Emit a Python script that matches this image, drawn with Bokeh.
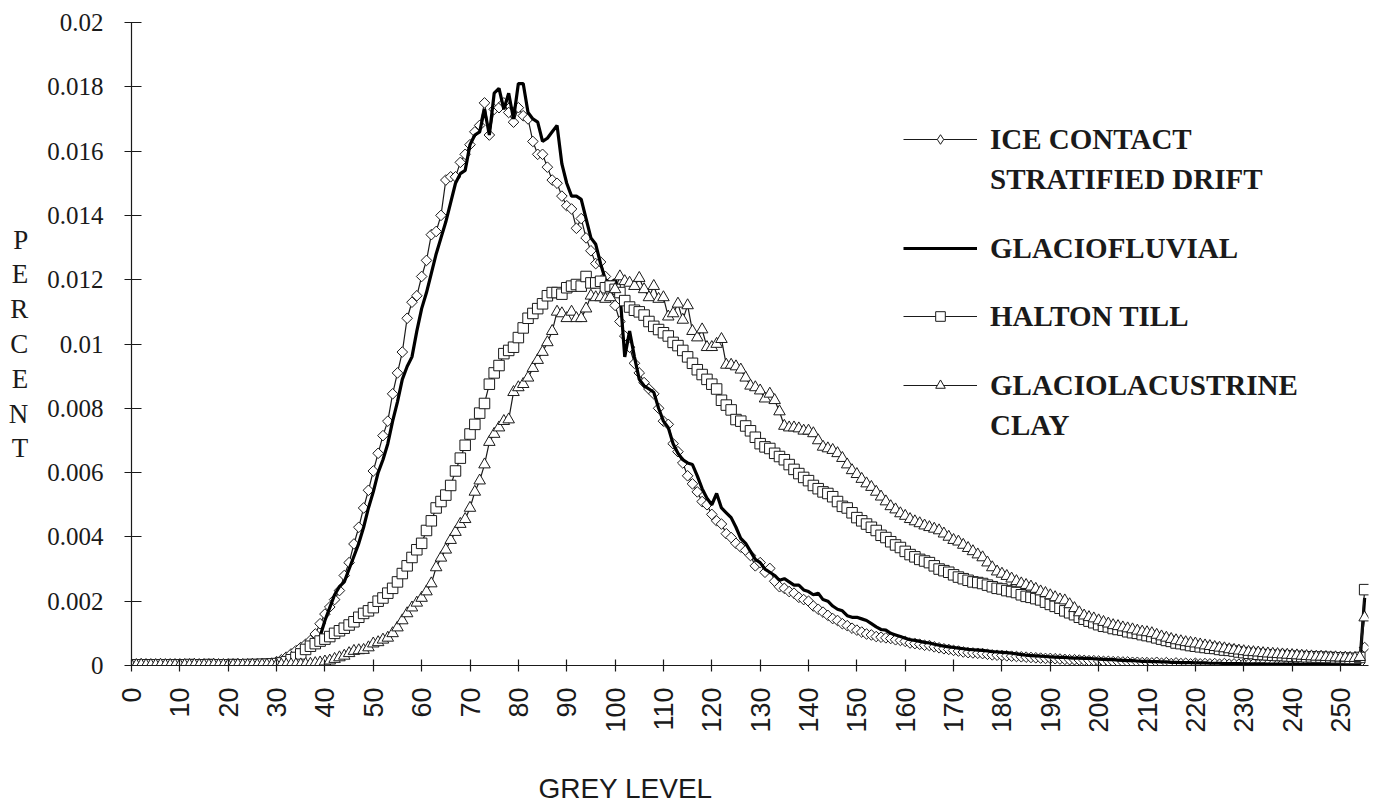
import numpy as np
from bokeh.plotting import figure
from bokeh.models import (Range1d, FixedTicker, CustomJSTickFormatter, Legend,
                          LegendItem)
from bokeh.embed import file_html
from bokeh.resources import INLINE

# ---------------- data (values in thousandths of the plotted "PERCENT") ----------------
GREY_LEVEL = list(range(256))
X_TICKS = [0, 10, 20, 30, 40, 50, 60, 70, 80, 90, 100, 110, 120, 130, 140, 150,
           160, 170, 180, 190, 200, 210, 220, 230, 240, 250]
Y_TICKS = [0, 0.002, 0.004, 0.006, 0.008, 0.01, 0.012, 0.014, 0.016, 0.018, 0.02]
PER_MILLE = 0.001

ICE_CONTACT = [
    0.02, 0.03, 0.02, 0.02, 0.03, 0.02, 0.02, 0.03, 0.02, 0.02,
    0.03, 0.02, 0.02, 0.03, 0.02, 0.03, 0.02, 0.02, 0.03, 0.03,
    0.02, 0.03, 0.03, 0.02, 0.03, 0.04, 0.03, 0.04, 0.05, 0.07,
    0.12, 0.18, 0.26, 0.36, 0.46, 0.56, 0.66, 0.78, 0.98, 1.30,
    1.60, 1.82, 2.05, 2.33, 2.80, 3.20, 3.78, 4.30, 4.90, 5.45,
    6.05, 6.60, 7.15, 7.60, 8.45, 9.10, 9.75, 10.80, 11.30, 11.50,
    12.10, 12.60, 13.40, 13.50, 14.00, 15.10, 15.20, 15.20, 15.65, 15.90,
    16.20, 16.60, 16.80, 17.50, 16.50, 17.30, 17.35, 17.50, 17.20, 16.90,
    17.35, 17.10, 17.00, 16.30, 15.90, 15.90, 15.50, 15.10, 15.00, 14.60,
    14.30, 14.20, 13.60, 13.90, 13.30, 12.90, 12.50, 12.55, 12.10, 11.80,
    11.20, 10.70, 10.25, 9.90, 9.40, 9.10, 8.80, 8.60, 8.45, 8.00,
    7.60, 7.50, 6.90, 6.65, 6.30, 5.90, 5.65, 5.40, 5.10, 5.00,
    4.70, 4.50, 4.40, 4.10, 3.98, 3.80, 3.68, 3.58, 3.42, 3.10,
    3.20, 2.90, 3.02, 2.62, 2.45, 2.40, 2.30, 2.25, 2.12, 2.05,
    2.00, 1.85, 1.75, 1.66, 1.56, 1.46, 1.40, 1.30, 1.24, 1.16,
    1.10, 1.04, 0.98, 0.95, 0.90, 0.88, 0.86, 0.84, 0.80, 0.78,
    0.75, 0.70, 0.68, 0.66, 0.63, 0.62, 0.58, 0.55, 0.52, 0.50,
    0.47, 0.45, 0.42, 0.40, 0.39, 0.38, 0.37, 0.35, 0.33, 0.32,
    0.31, 0.30, 0.29, 0.28, 0.27, 0.26, 0.25, 0.24, 0.23, 0.22,
    0.22, 0.21, 0.20, 0.19, 0.18, 0.18, 0.17, 0.16, 0.15, 0.15,
    0.14, 0.13, 0.13, 0.12, 0.12, 0.11, 0.11, 0.10, 0.10, 0.09,
    0.09, 0.08, 0.10, 0.07, 0.09, 0.06, 0.08, 0.06, 0.07, 0.05,
    0.07, 0.05, 0.06, 0.05, 0.06, 0.04, 0.06, 0.04, 0.05, 0.04,
    0.05, 0.04, 0.05, 0.03, 0.05, 0.04, 0.04, 0.03, 0.05, 0.03,
    0.04, 0.03, 0.04, 0.03, 0.04, 0.03, 0.04, 0.03, 0.04, 0.03,
    0.04, 0.03, 0.04, 0.05, 0.08, 0.56,
]

GLACIOFLUVIAL = [
    None, None, None, None, None, None, None, None, None, None,
    None, None, None, None, None, None, None, None, None, None,
    None, None, None, None, None, None, None, None, None, None,
    None, None, None, None, None, None, None, None, None, 0.90,
    1.40, 1.80, 2.20, 2.45, 2.60, 3.00, 3.40, 3.80, 4.30, 4.90,
    5.40, 6.00, 6.40, 6.90, 7.60, 8.20, 8.90, 9.30, 9.60, 10.40,
    11.10, 11.60, 12.20, 12.80, 13.30, 13.80, 14.40, 15.00, 15.30, 15.40,
    16.20, 16.50, 16.60, 17.30, 16.50, 17.80, 17.95, 17.30, 17.80, 17.00,
    18.10, 18.10, 17.20, 17.00, 16.90, 16.30, 16.40, 16.60, 16.80, 15.60,
    15.00, 14.60, 14.60, 14.50, 13.90, 13.30, 13.10, 12.50, 12.00, 11.90,
    12.00, 11.60, 9.60, 10.40, 9.60, 8.90, 8.70, 8.60, 8.50, 8.00,
    7.60, 7.40, 6.90, 6.60, 6.40, 6.30, 6.25, 5.90, 5.50, 5.20,
    5.00, 5.35, 4.90, 4.75, 4.60, 4.30, 3.95, 3.80, 3.55, 3.30,
    3.20, 3.00, 2.90, 2.80, 2.65, 2.70, 2.60, 2.50, 2.50, 2.35,
    2.30, 2.20, 2.25, 2.05, 2.00, 1.85, 1.75, 1.70, 1.55, 1.50,
    1.50, 1.45, 1.40, 1.30, 1.20, 1.12, 1.10, 1.00, 0.95, 0.90,
    0.85, 0.80, 0.78, 0.75, 0.72, 0.70, 0.66, 0.63, 0.60, 0.58,
    0.56, 0.54, 0.52, 0.50, 0.49, 0.48, 0.47, 0.45, 0.43, 0.42,
    0.41, 0.40, 0.38, 0.36, 0.34, 0.32, 0.31, 0.30, 0.29, 0.28,
    0.27, 0.26, 0.25, 0.25, 0.24, 0.23, 0.23, 0.22, 0.22, 0.21,
    0.20, 0.19, 0.18, 0.18, 0.17, 0.16, 0.15, 0.15, 0.14, 0.13,
    0.13, 0.12, 0.12, 0.11, 0.11, 0.10, 0.10, 0.09, 0.09, 0.09,
    0.08, 0.08, 0.08, 0.07, 0.07, 0.07, 0.06, 0.06, 0.06, 0.06,
    0.05, 0.05, 0.05, 0.05, 0.05, 0.04, 0.04, 0.04, 0.04, 0.04,
    0.04, 0.04, 0.03, 0.03, 0.03, 0.03, 0.03, 0.03, 0.03, 0.03,
    0.03, 0.03, 0.03, 0.03, 0.04, 2.10,
]

HALTON_TILL = [
    0.02, 0.02, 0.02, 0.02, 0.02, 0.02, 0.02, 0.02, 0.02, 0.02,
    0.02, 0.02, 0.03, 0.02, 0.02, 0.02, 0.03, 0.02, 0.02, 0.02,
    0.02, 0.03, 0.02, 0.02, 0.03, 0.03, 0.03, 0.04, 0.04, 0.05,
    0.06, 0.08, 0.12, 0.18, 0.25, 0.36, 0.50, 0.60, 0.68, 0.76,
    0.82, 0.90, 1.00, 1.08, 1.16, 1.26, 1.36, 1.50, 1.62, 1.70,
    1.80, 2.00, 2.10, 2.25, 2.40, 2.60, 2.86, 3.10, 3.36, 3.60,
    3.80, 4.20, 4.50, 4.90, 5.10, 5.30, 5.60, 6.05, 6.45, 6.85,
    7.20, 7.50, 7.85, 8.15, 8.75, 9.10, 9.33, 9.70, 9.80, 9.90,
    10.20, 10.50, 10.80, 10.95, 11.10, 11.25, 11.50, 11.60, 11.60, 11.55,
    11.75, 11.80, 11.85, 11.80, 12.10, 11.90, 11.90, 11.95, 11.75, 11.80,
    11.70, 11.60, 11.35, 11.15, 11.05, 11.00, 10.90, 10.70, 10.55, 10.45,
    10.35, 10.25, 10.05, 9.95, 9.80, 9.60, 9.40, 9.20, 9.05, 8.90,
    8.75, 8.60, 8.25, 8.10, 7.95, 7.65, 7.60, 7.45, 7.30, 7.10,
    6.90, 6.80, 6.75, 6.60, 6.50, 6.40, 6.25, 6.10, 5.97, 5.85,
    5.75, 5.60, 5.50, 5.40, 5.35, 5.25, 5.10, 4.95, 4.90, 4.75,
    4.60, 4.50, 4.40, 4.30, 4.20, 4.05, 3.98, 3.85, 3.75, 3.67,
    3.55, 3.45, 3.38, 3.30, 3.25, 3.20, 3.10, 3.00, 2.95, 2.90,
    2.82, 2.75, 2.70, 2.65, 2.60, 2.58, 2.55, 2.50, 2.45, 2.40,
    2.38, 2.33, 2.30, 2.27, 2.20, 2.15, 2.12, 2.08, 2.04, 1.97,
    1.90, 1.84, 1.78, 1.70, 1.64, 1.58, 1.50, 1.44, 1.38, 1.33,
    1.27, 1.22, 1.20, 1.15, 1.12, 1.10, 1.05, 1.02, 1.00, 0.96,
    0.93, 0.90, 0.86, 0.82, 0.78, 0.75, 0.70, 0.68, 0.65, 0.62,
    0.60, 0.58, 0.56, 0.54, 0.53, 0.50, 0.48, 0.47, 0.45, 0.42,
    0.40, 0.38, 0.37, 0.35, 0.34, 0.33, 0.32, 0.31, 0.31, 0.30,
    0.29, 0.28, 0.28, 0.27, 0.27, 0.26, 0.26, 0.25, 0.25, 0.24,
    0.24, 0.23, 0.22, 0.22, 0.25, 2.36,
]

GLACIOLACUSTRINE_CLAY = [
    0.01, 0.01, 0.02, 0.01, 0.01, 0.01, 0.02, 0.01, 0.01, 0.01,
    0.01, 0.01, 0.01, 0.02, 0.01, 0.01, 0.01, 0.02, 0.01, 0.01,
    0.01, 0.01, 0.02, 0.01, 0.01, 0.02, 0.01, 0.02, 0.02, 0.02,
    0.02, 0.02, 0.02, 0.03, 0.03, 0.03, 0.04, 0.05, 0.07, 0.09,
    0.12, 0.15, 0.20, 0.25, 0.30, 0.38, 0.45, 0.47, 0.48, 0.56,
    0.68, 0.72, 0.80, 0.86, 1.00, 1.18, 1.40, 1.62, 1.80, 1.95,
    2.10, 2.30, 2.55, 3.05, 3.35, 3.60, 3.90, 4.15, 4.40, 4.55,
    4.90, 5.40, 5.75, 6.25, 6.95, 7.20, 7.40, 7.60, 7.65, 8.50,
    8.65, 8.75, 8.95, 9.25, 9.50, 9.75, 10.05, 10.40, 11.00, 10.95,
    10.80, 11.00, 10.80, 10.80, 11.10, 11.50, 11.45, 11.45, 11.40, 11.45,
    11.70, 12.10, 11.95, 11.90, 11.80, 12.05, 11.70, 11.45, 11.80, 11.40,
    11.45, 10.85, 10.95, 11.25, 10.75, 11.20, 10.40, 10.20, 10.45, 9.90,
    9.90, 10.00, 10.15, 9.35, 9.35, 9.30, 9.20, 8.95, 8.70, 8.65,
    8.55, 8.30, 8.45, 8.25, 7.90, 7.45, 7.40, 7.40, 7.37, 7.30,
    7.30, 7.22, 7.00, 6.80, 6.75, 6.70, 6.60, 6.45, 6.25, 6.07,
    5.95, 5.80, 5.66, 5.55, 5.40, 5.25, 5.10, 4.95, 4.85, 4.73,
    4.65, 4.55, 4.48, 4.42, 4.35, 4.30, 4.25, 4.20, 4.10, 4.00,
    3.90, 3.85, 3.75, 3.65, 3.55, 3.45, 3.36, 3.20, 3.05, 2.92,
    2.85, 2.78, 2.70, 2.62, 2.55, 2.50, 2.45, 2.38, 2.30, 2.25,
    2.18, 2.12, 2.05, 2.02, 1.90, 1.78, 1.65, 1.55, 1.50, 1.46,
    1.40, 1.35, 1.30, 1.25, 1.22, 1.18, 1.15, 1.12, 1.08, 1.05,
    1.03, 1.00, 0.95, 0.90, 0.86, 0.82, 0.78, 0.75, 0.72, 0.70,
    0.68, 0.65, 0.62, 0.60, 0.57, 0.55, 0.53, 0.50, 0.48, 0.46,
    0.44, 0.42, 0.41, 0.40, 0.38, 0.37, 0.36, 0.35, 0.34, 0.33,
    0.32, 0.31, 0.30, 0.29, 0.28, 0.27, 0.27, 0.26, 0.25, 0.25,
    0.24, 0.24, 0.23, 0.23, 0.26, 1.49,
]


def pct(values):
    return np.array([np.nan if v is None else v * PER_MILLE for v in values], dtype=float)


INK = "#1a1a1a"
SERIF = "Liberation Serif"
SANS = "Liberation Sans"

p = figure(width=1375, height=806, output_backend="svg", toolbar_location=None,
           x_range=Range1d(0, 255.8), y_range=Range1d(0, 0.02),
           min_border_left=131, min_border_right=7, min_border_top=22,
           min_border_bottom=141)
p.outline_line_color = None
p.xgrid.visible = False
p.ygrid.visible = False
p.background_fill_color = "white"
p.border_fill_color = "white"

# ---------------- series ----------------
ice_line = p.line(GREY_LEVEL, pct(ICE_CONTACT), line_color=INK, line_width=1.2)
ice_pts = p.scatter(GREY_LEVEL, pct(ICE_CONTACT), marker="square", angle=np.pi / 4,
                    size=7.5, fill_color="white", line_color=INK, line_width=1)

gf_line = p.line(GREY_LEVEL, pct(GLACIOFLUVIAL), line_color="black", line_width=3.2)

ht_line = p.line(GREY_LEVEL, pct(HALTON_TILL), line_color=INK, line_width=1.2)
ht_pts = p.scatter(GREY_LEVEL, pct(HALTON_TILL), marker="square", size=10.5,
                   fill_color="white", line_color=INK, line_width=1)

gl_line = p.line(GREY_LEVEL, pct(GLACIOLACUSTRINE_CLAY), line_color=INK, line_width=1.2)
gl_pts = p.scatter(GREY_LEVEL, pct(GLACIOLACUSTRINE_CLAY), marker="triangle", size=11.5,
                   fill_color="white", line_color=INK, line_width=1)

# legend-only helpers (nothing drawn in the plot area)
blank = p.line([], [], line_alpha=0)
ice_key = p.scatter([np.nan], [np.nan], marker="diamond", size=14, fill_color="white",
                    line_color=INK, line_width=1)

# ---------------- axes ----------------
for ax in (p.xaxis[0], p.yaxis[0]):
    ax.axis_line_color = INK
    ax.axis_line_width = 1.2
    ax.major_tick_line_color = INK
    ax.major_tick_line_width = 1.2
    ax.minor_tick_line_color = None
    ax.major_label_text_color = INK

p.xaxis.ticker = FixedTicker(ticks=X_TICKS)
p.xaxis.major_tick_in = 6
p.xaxis.major_tick_out = 6
p.xaxis.major_label_orientation = np.pi / 2
p.xaxis.major_label_text_font = SANS
p.xaxis.major_label_text_font_size = "27px"
p.xaxis.major_label_standoff = 16

# x title (left of centre in the reference: padded on the right with no-break spaces)
p.xaxis.axis_label = "GREY LEVEL" + "\u00a0" * 32
p.xaxis.axis_label_text_font = SANS
p.xaxis.axis_label_text_font_style = "normal"
p.xaxis.axis_label_text_font_size = "28px"
p.xaxis.axis_label_text_color = INK
p.xaxis.axis_label_standoff = 37

p.yaxis.ticker = FixedTicker(ticks=Y_TICKS)
p.yaxis.formatter = CustomJSTickFormatter(code="return tick.toString();")
p.yaxis.major_tick_in = 10
p.yaxis.major_tick_out = 7
p.yaxis.major_label_text_font = SERIF
p.yaxis.major_label_text_font_size = "25px"
p.yaxis.major_label_standoff = 21

# y title: stacked letters
p.yaxis.axis_label = "\n".join("PERCENT")
p.yaxis.axis_label_orientation = "horizontal"
p.yaxis.axis_label_text_font = SERIF
p.yaxis.axis_label_text_font_style = "normal"
p.yaxis.axis_label_text_font_size = "27px"
p.yaxis.axis_label_text_line_height = 1.16
p.yaxis.axis_label_text_color = INK
p.yaxis.axis_label_standoff = 16


# ---------------- legend ----------------
def make_legend(items, loc):
    lg = Legend(items=items, location=loc, orientation="vertical",
                border_line_alpha=0, background_fill_alpha=0, padding=0, margin=0,
                spacing=4, glyph_width=74, glyph_height=24, label_height=36,
                label_standoff=13, label_text_font=SERIF, label_text_font_style="bold",
                label_text_font_size="29px", label_text_color=INK)
    p.add_layout(lg)


make_legend([LegendItem(label="ICE CONTACT", renderers=[ice_line, ice_key]),
             LegendItem(label="STRATIFIED DRIFT", renderers=[blank])], (772, 468))
make_legend([LegendItem(label="GLACIOFLUVIAL", renderers=[gf_line])], (772, 399))
make_legend([LegendItem(label="HALTON TILL", renderers=[ht_line, ht_pts])], (772, 331))
make_legend([LegendItem(label="GLACIOLACUSTRINE", renderers=[gl_line, gl_pts]),
             LegendItem(label="CLAY", renderers=[blank])], (772, 222))

open("out.html", "w").write(file_html(p, INLINE))
